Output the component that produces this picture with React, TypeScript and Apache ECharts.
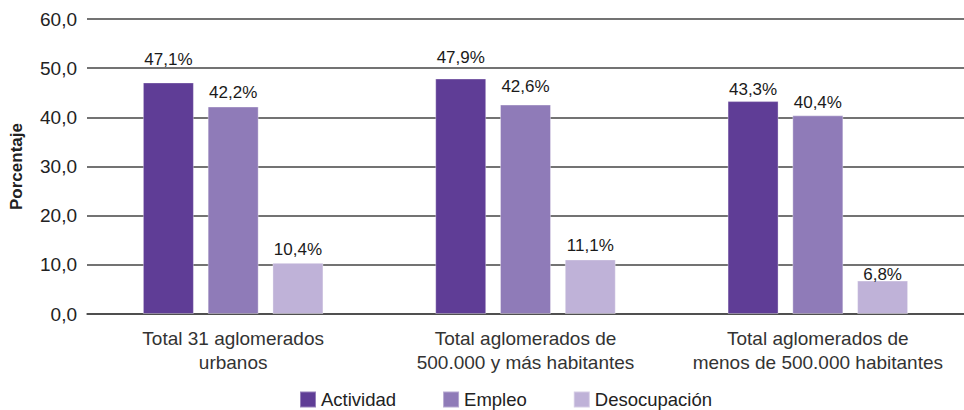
import React, { useEffect, useRef } from "react";
import * as echarts from "echarts";

const categories = [
  "Total 31 aglomerados\nurbanos",
  "Total aglomerados de\n500.000 y más habitantes",
  "Total aglomerados de\nmenos de 500.000 habitantes",
];
const actividad = [47.1, 47.9, 43.3];
const empleo = [42.2, 42.6, 40.4];
const desocupacion = [10.4, 11.1, 6.8];
const seriesNames = ["Actividad", "Empleo", "Desocupación"];

const fmt = (v: number, d = 1) => v.toFixed(d).replace(".", ",");
const FONT = "Liberation Sans, Arial, Helvetica, sans-serif";

export default function App() {
  const ref = useRef<HTMLDivElement>(null);
  useEffect(() => {
    if (!ref.current) return;
    const chart = echarts.init(ref.current, null, { renderer: "svg" });
    const colors = ["#5f3d96", "#8f7bb8", "#bfb2d8"];
    // label placement (style): gap between bar top and label bottom, as in the reference
    const labelGaps = [
      [14, 12.5, 3],
      [5.5, 10, 4],
      [5, 5, -2],
    ];
    const mk = (idx: number, data: number[]) => ({
      name: seriesNames[idx],
      type: "bar",
      data: data.map((v, i) => ({ value: v, label: { distance: labelGaps[idx][i] } })),
      barWidth: 51,
      barGap: "27%",
      itemStyle: { color: colors[idx], borderColor: "rgba(255,255,255,0.35)", borderWidth: 1 },
      label: {
        show: true,
        position: "top",
        formatter: (p: any) => fmt(p.value) + "%",
        fontFamily: FONT,
        fontSize: 17,
        color: "#1a1a1a",
      },
    });
    chart.setOption({
      animation: false,
      textStyle: { fontFamily: FONT },
      grid: { left: 87, right: -9, top: 19, bottom: 96, containLabel: false },
      legend: {
        data: seriesNames,
        left: 294,
        top: 385,
        itemWidth: 16,
        itemHeight: 16,
        itemGap: 46,
        icon: "rect",
        textStyle: { fontFamily: FONT, fontSize: 18.5, color: "#222" },
      },
      xAxis: {
        type: "category",
        data: categories,
        axisTick: { show: false },
        axisLine: { lineStyle: { color: "#444", width: 1.5 } },
        axisLabel: {
          fontFamily: FONT,
          fontSize: 19,
          color: "#333",
          lineHeight: 24,
          margin: 12,
          interval: 0,
        },
      },
      yAxis: {
        type: "value",
        min: 0,
        max: 60,
        interval: 10,
        name: "Porcentaje",
        nameLocation: "middle",
        nameGap: 62,
        nameTextStyle: { fontFamily: FONT, fontSize: 17, fontWeight: "bold", color: "#222" },
        axisLabel: {
          formatter: (v: number) => fmt(v),
          fontFamily: FONT,
          fontSize: 19,
          color: "#222",
          margin: 10,
        },
        axisLine: { show: false },
        axisTick: { show: false },
        splitLine: { lineStyle: { color: "#444", width: 1.5 } },
      },
      series: [mk(0, actividad), mk(1, empleo), mk(2, desocupacion)],
    });
    return () => chart.dispose();
  }, []);
  return (
    <div
      ref={ref}
      style={{ position: "absolute", left: 0, top: 0, width: 964, height: 410 }}
    />
  );
}
